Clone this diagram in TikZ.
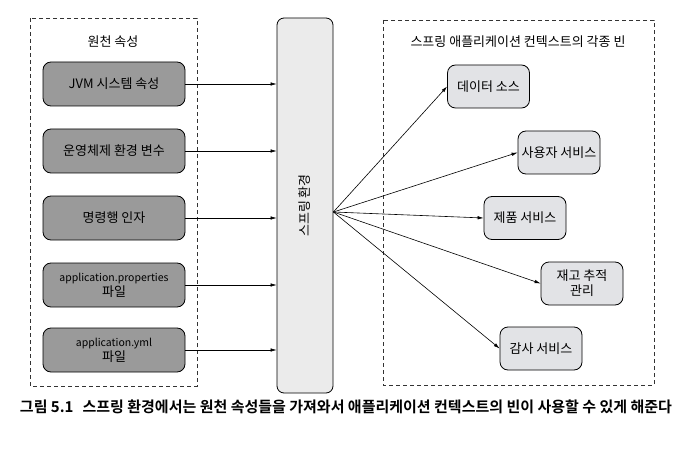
\documentclass[tikz,border=0pt]{standalone}
\usepackage{fontspec}
\setmainfont{Noto Sans CJK KR}[BoldFont={Noto Sans CJK KR Bold}]
\usetikzlibrary{arrows.meta,positioning,calc}
\definecolor{srcgray}{HTML}{9A9A9A}
\definecolor{envgray}{HTML}{EBEBEB}
\definecolor{beangray}{HTML}{E2E3E6}
\tikzset{
  group/.style={draw=black!80,dash pattern=on 4pt off 3pt,line width=0.9pt},
  source/.style={draw,rounded corners=8pt,fill=srcgray,line width=0.8pt,minimum width=142pt,minimum height=44pt,align=center,inner sep=0},
  bean/.style={draw,rounded corners=8pt,fill=beangray,line width=0.8pt,minimum width=82pt,minimum height=43pt,align=center,inner sep=0},
  envbox/.style={draw,rounded corners=7pt,fill=envgray,line width=0.8pt,minimum width=56pt,minimum height=375pt},
  connect/.style={-{Latex[length=6pt,width=3.5pt]},line width=0.6pt}
}

\begin{document}
\begin{tikzpicture}[x=1pt,y=-1pt,font=\fontsize{13}{15}\selectfont]
    \useasboundingbox (0,0) rectangle (690,449);
    % Groups
    \draw[group] (30,18) rectangle (197,386);
    \draw[group] (383,20) rectangle (654,385);
    \node (srctitle) at (113,42) {원천 속성};
    \node (beantitle) at (518,42) {스프링 애플리케이션 컨텍스트의 각종 빈};
    % Sources
    \foreach \i/\y/\t in {1/84/{JVM 시스템 속성},2/151/{운영체제 환경 변수},3/218/{명령행 인자},
        4/285/{{\fontsize{10.5}{13}\selectfont application.properties}\\파일},
        5/350/{{\fontsize{10.5}{13}\selectfont application.yml}\\파일}}
      \node[source] (S\i) at (114,\y) {\t};
    % Spring environment
    \node[envbox] (env) at (305,205.5) {};
    \node[rotate=90] (envlabel) at (env) {스프링 환경};
    \coordinate (hub) at ([yshift=-6.5pt]env.east);
    % Beans
    \foreach \i/\x/\y/\t in {1/488.5/86.5/{데이터 소스},2/559/152.5/{사용자 서비스},3/525/218/{제품 서비스},
        4/582/283.5/{재고 추적\\관리},5/541/348.5/{감사 서비스}}
      \node[bean] (B\i) at (\x,\y) {\t};
    % Connections
    \foreach \i in {1,...,5} \draw[connect] (S\i) -- (S\i -| env.west);
    \foreach \i in {1,...,5} \draw[connect] (hub) -- (B\i.west);
    % Caption
    \node (caption) at (346,407) {\fontsize{15}{17}\selectfont\bfseries 그림 5.1\hspace{0.6em}스프링 환경에서는 원천 속성들을 가져와서 애플리케이션 컨텍스트의 빈이 사용할 수 있게 해준다};
  \end{tikzpicture}
\end{document}
